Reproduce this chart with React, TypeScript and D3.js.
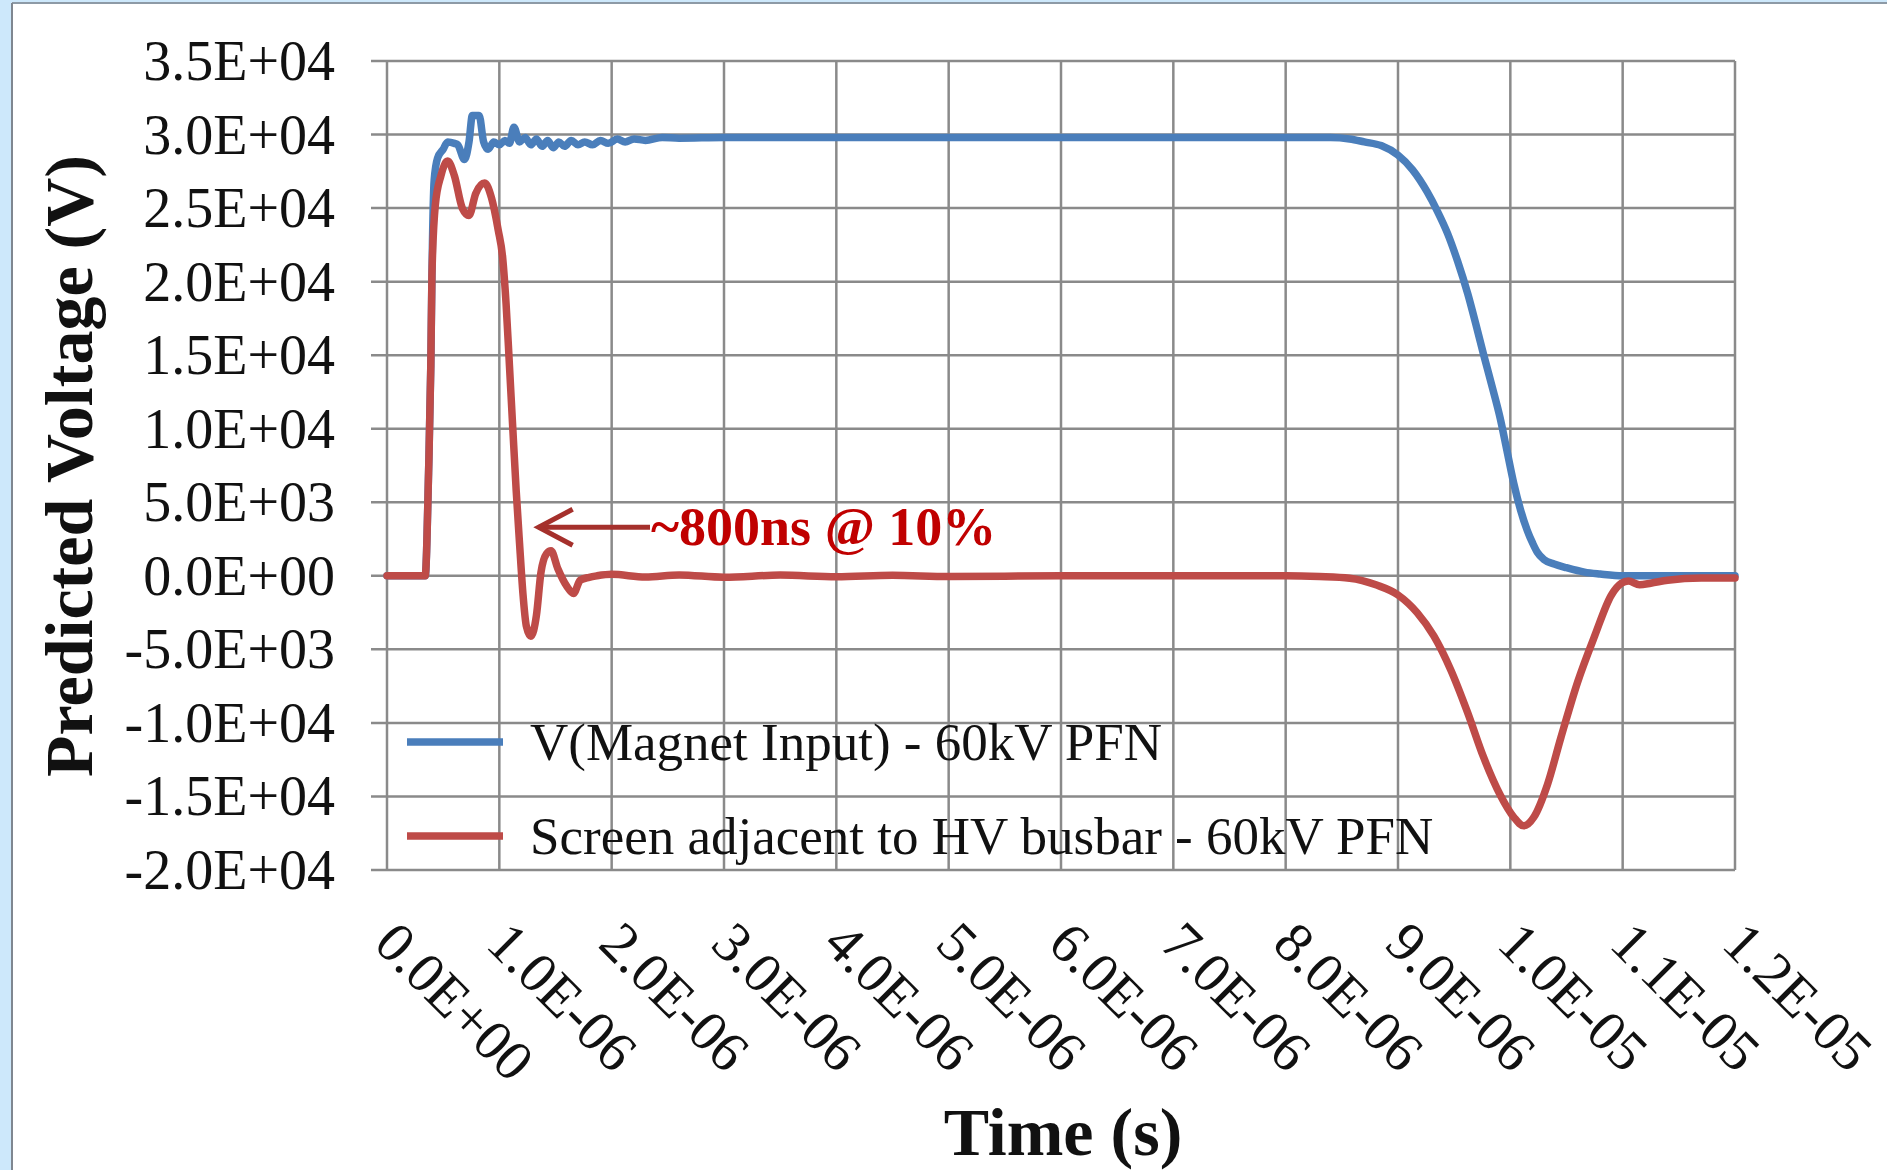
import React from "react";
import * as d3 from "d3";

// time in microseconds, voltage in volts
const magnetT = [
  0, 0.34, 0.37, 0.39, 0.4, 0.42, 0.45, 0.5, 0.54, 0.6, 0.63, 0.69, 0.73, 0.76, 0.82, 0.86,
  0.9, 0.95, 1.0, 1.05, 1.09, 1.13, 1.18, 1.23, 1.28, 1.33, 1.38, 1.43, 1.48, 1.53, 1.58,
  1.64, 1.7, 1.76, 1.83, 1.9, 1.97, 2.05, 2.12, 2.2, 2.3, 2.45, 2.6, 3.0, 4.0, 5.0, 6.0, 7.0,
  8.0, 8.4, 8.57, 8.7, 8.85, 9.0, 9.13, 9.26, 9.35, 9.44, 9.53, 9.62, 9.7, 9.76, 9.84, 9.91,
  9.97, 10.03, 10.09, 10.15, 10.2, 10.24, 10.3, 10.39, 10.5, 10.66, 10.8, 11.0, 11.5, 12.0,
];
const magnetV = [
  0, 0, 7000, 14300, 20400, 26900, 28400, 29000, 29500, 29400, 29300, 28300, 29500, 31300,
  31300, 29500, 29000, 29500, 29300, 29600, 29400, 30500, 29500, 29800, 29300, 29700, 29200,
  29600, 29100, 29500, 29200, 29600, 29300, 29500, 29300, 29600, 29400, 29700, 29500, 29700,
  29600, 29800, 29750, 29800, 29800, 29800, 29800, 29800, 29800, 29800, 29700, 29500, 29250,
  28600, 27600, 26100, 24800, 23300, 21400, 19200, 16900, 15100, 12800, 10700, 8500, 6300,
  4500, 3100, 2200, 1600, 1100, 800, 550, 250, 120, 0, 0, 0,
];

const screenT = [
  0, 0.34, 0.37, 0.39, 0.4, 0.43, 0.48, 0.54, 0.6, 0.67, 0.73, 0.79, 0.87, 0.93, 0.99, 1.03,
  1.06, 1.09, 1.12, 1.15, 1.18, 1.21, 1.24, 1.28, 1.33, 1.37, 1.42, 1.46, 1.52, 1.6, 1.66,
  1.72, 1.8, 1.87, 2.0, 2.3, 2.6, 3.0, 3.5, 4.0, 4.5, 5.0, 6.0, 7.0, 8.0, 8.3, 8.57, 8.81,
  9.0, 9.17, 9.32, 9.47, 9.62, 9.76, 9.91, 10.03, 10.12, 10.21, 10.33, 10.45, 10.6, 10.75,
  10.9, 10.99, 11.05, 11.15, 11.25, 11.4, 11.7, 12.0,
];
const screenV = [
  0, 0, 7000, 14300, 20400, 25200, 27200, 28200, 27200, 25000, 24500, 26000, 26700, 25700,
  23500, 21600, 18500, 14300, 10000, 5800, 2200, -1200, -3400, -4100, -2700, 200, 1500, 1700,
  500, -700, -1200, -300, -100, 0, 100, -80, 60, -100, 50, -60, 40, -50, 0, 0, 0, -50, -160,
  -630, -1300, -2500, -4100, -6400, -9300, -12300, -14900, -16400, -17000, -16400, -14200,
  -11000, -7200, -4100, -1300, -500, -350, -600, -500, -300, -150, -150,
];

const xTickValues = [0, 1, 2, 3, 4, 5, 6, 7, 8, 9, 10, 11, 12];
const xTickLabels = [
  "0.0E+00", "1.0E-06", "2.0E-06", "3.0E-06", "4.0E-06", "5.0E-06", "6.0E-06",
  "7.0E-06", "8.0E-06", "9.0E-06", "1.0E-05", "1.1E-05", "1.2E-05",
];
const yTickValues = [35000, 30000, 25000, 20000, 15000, 10000, 5000, 0, -5000, -10000, -15000, -20000];
const yTickLabels = [
  "3.5E+04", "3.0E+04", "2.5E+04", "2.0E+04", "1.5E+04", "1.0E+04", "5.0E+03",
  "0.0E+00", "-5.0E+03", "-1.0E+04", "-1.5E+04", "-2.0E+04",
];
const seriesNames = ["V(Magnet Input) - 60kV PFN", "Screen adjacent to HV busbar - 60kV PFN"];
const seriesColors = ["#4a7ebb", "#be4b48"];
const note = { t: 1.35, v: 3300, text: "~800ns @ 10%" };

const W = 1887;
const H = 1170;
const font = "'Liberation Serif', 'Times New Roman', serif";

export default function App() {
  const x = d3.scaleLinear().domain([0, 12]).range([387, 1735]);
  const y = d3.scaleLinear().domain([-20000, 35000]).range([870, 61]);

  const line = d3
    .line<[number, number]>()
    .x((d) => x(d[0]))
    .y((d) => y(d[1]))
    .curve(d3.curveMonotoneX);

  const series = [
    magnetT.map((t, i) => [t, magnetV[i]] as [number, number]),
    screenT.map((t, i) => [t, screenV[i]] as [number, number]),
  ];

  const grid = "#8a8a8a";
  const arrowX = x(note.t);
  const arrowY = y(note.v);

  return (
    <div style={{ position: "absolute", left: 0, top: 0 }}>
      <svg width={W} height={H} style={{ display: "block" }}>
        <rect x={0} y={0} width={W} height={H} fill="#cde8fb" />
        <rect x={13} y={4} width={W - 13} height={H - 4} fill="#ffffff" />
        <line x1={12} y1={3} x2={W} y2={3} stroke="#8d9aa6" strokeWidth={2} />
        <line x1={12} y1={3} x2={12} y2={H} stroke="#7f8790" strokeWidth={2} />

        {/* grid */}
        {yTickValues.map((v) => (
          <line key={"gy" + v} x1={371} x2={1735} y1={y(v)} y2={y(v)} stroke={grid} strokeWidth={2.5} />
        ))}
        {xTickValues.map((t) => (
          <line key={"gx" + t} x1={x(t)} x2={x(t)} y1={61} y2={870} stroke={grid} strokeWidth={2.5} />
        ))}

        {/* y tick labels */}
        {yTickValues.map((v, i) => (
          <text
            key={"ty" + v}
            x={335}
            y={y(v)}
            textAnchor="end"
            dominantBaseline="central"
            fontFamily={font}
            fontSize={56}
            fill="#111"
          >
            {yTickLabels[i]}
          </text>
        ))}

        {/* x tick labels */}
        {xTickValues.map((t, i) => (
          <text
            key={"tx" + t}
            transform={`translate(${x(t) - 15},946) rotate(45)`}
            fontFamily={font}
            fontSize={57}
            fill="#111"
          >
            {xTickLabels[i]}
          </text>
        ))}

        {/* series */}
        {series.map((s, i) => (
          <path
            key={"s" + i}
            d={line(s) || ""}
            fill="none"
            stroke={seriesColors[i]}
            strokeWidth={7.5}
            strokeLinejoin="round"
            strokeLinecap="round"
          />
        ))}

        {/* legend */}
        {seriesNames.map((n, i) => (
          <g key={"lg" + i} transform={`translate(407,${742 + i * 94})`}>
            <line x1={0} x2={96} y1={0} y2={0} stroke={seriesColors[i]} strokeWidth={7.5} />
            <text x={123} y={0} dominantBaseline="central" fontFamily={font} fontSize={53} fill="#111">
              {n}
            </text>
          </g>
        ))}

        {/* annotation */}
        <g>
          <line x1={arrowX} x2={650} y1={arrowY} y2={arrowY} stroke="#a5302c" strokeWidth={5} />
          <polyline
            points={`${arrowX + 34},${arrowY - 18} ${arrowX},${arrowY} ${arrowX + 34},${arrowY + 18}`}
            fill="none"
            stroke="#a5302c"
            strokeWidth={5}
          />
          <text x={651} y={arrowY + 18} fontFamily={font} fontSize={54} fontWeight="bold" fill="#c00000">
            {note.text}
          </text>
        </g>

        {/* axis titles */}
        <text
          transform="translate(92,466) rotate(-90)"
          textAnchor="middle"
          fontFamily={font}
          fontSize={68}
          fontWeight="bold"
          fill="#111"
        >
          Predicted Voltage (V)
        </text>
        <text x={1063} y={1155} textAnchor="middle" fontFamily={font} fontSize={68} fontWeight="bold" fill="#111">
          Time (s)
        </text>
      </svg>
    </div>
  );
}
